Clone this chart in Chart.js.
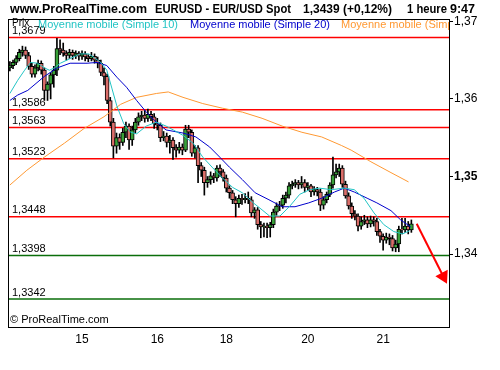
<!DOCTYPE html>
<html>
<head>
<meta charset="utf-8">
<script src="https://cdn.jsdelivr.net/npm/chart.js@4.4.1/dist/chart.umd.min.js"></script>
<style>html,body{margin:0;padding:0;background:#fff}</style>
</head>
<body>
<canvas id="chart" width="500" height="370"></canvas>
<script>
// hourly EUR/USD candles, index 0 = first hour shown
const opens = [
  1.3640,1.3643,1.3647,1.3652,1.3660,1.3663,1.3656,1.3642,1.3632,1.3640,
  1.3646,1.3637,1.3611,1.3619,1.3631,1.3637,1.3665,1.3663,1.3659,1.3656,
  1.3660,1.3656,1.3659,1.3655,1.3658,1.3654,1.3652,1.3655,1.3650,1.3646,
  1.3634,1.3629,1.3598,1.3570,1.3539,1.3550,1.3544,1.3557,1.3565,1.3547,
  1.3560,1.3570,1.3577,1.3579,1.3575,1.3580,1.3577,1.3568,1.3566,1.3550,
  1.3552,1.3544,1.3547,1.3537,1.3534,1.3538,1.3534,1.3561,1.3557,1.3530,
  1.3537,1.3514,1.3508,1.3492,1.3496,1.3501,1.3498,1.3511,1.3506,1.3498,
  1.3485,1.3479,1.3470,1.3465,1.3472,1.3470,1.3472,1.3470,1.3453,1.3457,
  1.3438,1.3435,1.3436,1.3434,1.3438,1.3454,1.3462,1.3463,1.3472,1.3476,
  1.3488,1.3490,1.3492,1.3489,1.3492,1.3486,1.3488,1.3480,1.3483,1.3480,
  1.3463,1.3470,1.3477,1.3489,1.3502,1.3506,1.3511,1.3490,1.3475,1.3462,
  1.3452,1.3449,1.3436,1.3442,1.3444,1.3439,1.3444,1.3442,1.3429,1.3423,
  1.3418,1.3422,1.3420,1.3408,1.3413,1.3432,1.3431,1.3436,1.3431
];
const highs = [
  1.3648,1.3650,1.3656,1.3664,1.3668,1.3667,1.3660,1.3646,1.3644,1.3650,
  1.3649,1.3640,1.3622,1.3634,1.3642,1.3678,1.3676,1.3672,1.3662,1.3664,
  1.3663,1.3662,1.3661,1.3662,1.3661,1.3657,1.3660,1.3658,1.3654,1.3650,
  1.3640,1.3632,1.3602,1.3575,1.3556,1.3555,1.3562,1.3570,1.3568,1.3565,
  1.3575,1.3582,1.3584,1.3585,1.3587,1.3584,1.3581,1.3575,1.3569,1.3558,
  1.3556,1.3553,1.3550,1.3541,1.3544,1.3542,1.3566,1.3566,1.3560,1.3540,
  1.3540,1.3518,1.3512,1.3500,1.3506,1.3504,1.3514,1.3515,1.3509,1.3502,
  1.3488,1.3482,1.3474,1.3476,1.3477,1.3478,1.3480,1.3474,1.3460,1.3460,
  1.3442,1.3440,1.3440,1.3441,1.3458,1.3466,1.3468,1.3476,1.3480,1.3492,
  1.3494,1.3496,1.3495,1.3500,1.3496,1.3492,1.3490,1.3487,1.3486,1.3484,
  1.3474,1.3480,1.3492,1.3525,1.3516,1.3516,1.3514,1.3494,1.3479,1.3466,
  1.3456,1.3452,1.3448,1.3450,1.3448,1.3449,1.3448,1.3446,1.3432,1.3426,
  1.3427,1.3426,1.3424,1.3418,1.3436,1.3446,1.3446,1.3442,1.3444
];
const lows = [
  1.3636,1.3639,1.3644,1.3649,1.3655,1.3652,1.3638,1.3628,1.3628,1.3636,
  1.3632,1.3598,1.3598,1.3600,1.3615,1.3630,1.3657,1.3655,1.3650,1.3652,
  1.3651,1.3652,1.3650,1.3651,1.3649,1.3648,1.3649,1.3646,1.3640,1.3630,
  1.3618,1.3594,1.3565,1.3524,1.3530,1.3535,1.3540,1.3550,1.3535,1.3540,
  1.3556,1.3566,1.3572,1.3570,1.3571,1.3572,1.3562,1.3560,1.3545,1.3546,
  1.3538,1.3530,1.3522,1.3525,1.3530,1.3528,1.3532,1.3550,1.3526,1.3524,
  1.3492,1.3500,1.3476,1.3486,1.3490,1.3492,1.3494,1.3500,1.3494,1.3480,
  1.3472,1.3465,1.3448,1.3460,1.3464,1.3466,1.3465,1.3448,1.3446,1.3432,
  1.3421,1.3422,1.3421,1.3422,1.3434,1.3450,1.3456,1.3459,1.3466,1.3472,
  1.3484,1.3486,1.3484,1.3485,1.3480,1.3482,1.3474,1.3476,1.3475,1.3456,
  1.3458,1.3466,1.3474,1.3485,1.3498,1.3500,1.3486,1.3472,1.3458,1.3446,
  1.3444,1.3430,1.3432,1.3438,1.3434,1.3435,1.3436,1.3424,1.3415,1.3405,
  1.3414,1.3412,1.3404,1.3403,1.3403,1.3426,1.3428,1.3426,1.3428
];
const closes = [
  1.3643,1.3647,1.3652,1.3660,1.3663,1.3656,1.3642,1.3632,1.3640,1.3646,
  1.3637,1.3611,1.3619,1.3631,1.3637,1.3665,1.3663,1.3659,1.3656,1.3660,
  1.3656,1.3659,1.3655,1.3658,1.3654,1.3652,1.3655,1.3650,1.3646,1.3634,
  1.3629,1.3598,1.3570,1.3539,1.3550,1.3544,1.3557,1.3565,1.3547,1.3560,
  1.3570,1.3577,1.3579,1.3575,1.3580,1.3577,1.3568,1.3566,1.3550,1.3552,
  1.3544,1.3547,1.3537,1.3534,1.3538,1.3534,1.3561,1.3557,1.3530,1.3537,
  1.3514,1.3508,1.3492,1.3496,1.3501,1.3498,1.3511,1.3506,1.3498,1.3485,
  1.3479,1.3470,1.3465,1.3472,1.3470,1.3472,1.3470,1.3453,1.3457,1.3438,
  1.3435,1.3436,1.3434,1.3438,1.3454,1.3462,1.3463,1.3472,1.3476,1.3488,
  1.3490,1.3492,1.3489,1.3492,1.3486,1.3488,1.3480,1.3483,1.3480,1.3463,
  1.3470,1.3477,1.3489,1.3502,1.3506,1.3511,1.3490,1.3475,1.3462,1.3452,
  1.3449,1.3436,1.3442,1.3444,1.3439,1.3444,1.3442,1.3429,1.3423,1.3418,
  1.3422,1.3420,1.3408,1.3413,1.3432,1.3431,1.3436,1.3431,1.3439
];

// moving averages (candle index, price)
const sma10 = [
  {x:0,y:1.3607},{x:2.5,y:1.3624},{x:4.7,y:1.3637},{x:6.6,y:1.3647},{x:8.8,y:1.3646},
  {x:11,y:1.3640},{x:12.6,y:1.3637},{x:14.2,y:1.3640},{x:16.1,y:1.3646},{x:19.2,y:1.3652},
  {x:22.4,y:1.3658},{x:25.2,y:1.3658},{x:29,y:1.3647},{x:30.9,y:1.3637},{x:32.5,y:1.3614},
  {x:34.1,y:1.3591},{x:36.3,y:1.3568},{x:38.5,y:1.3557},{x:40.4,y:1.3555},{x:43.5,y:1.3565},
  {x:46.7,y:1.3570},{x:49.8,y:1.3565},{x:52.1,y:1.3560},{x:55.2,y:1.3553},{x:58.4,y:1.3543},
  {x:61.5,y:1.3525},{x:64.7,y:1.3511},{x:67.8,y:1.3498},{x:71,y:1.3486},{x:74.1,y:1.3479},
  {x:77.3,y:1.3467},{x:80.4,y:1.3457},{x:82.8,y:1.3449},{x:86.1,y:1.3449},{x:89.3,y:1.3462},
  {x:92.4,y:1.3477},{x:95.6,y:1.3483},{x:98.7,y:1.3485},{x:102.5,y:1.3483},{x:106.6,y:1.3485},
  {x:109.8,y:1.3483},{x:112.9,y:1.3472},{x:116.1,y:1.3453},{x:119.2,y:1.3438},{x:122.4,y:1.3429},
  {x:125.2,y:1.3426},{x:127.4,y:1.3430}
];
const sma20 = [
  {x:0,y:1.3598},{x:2.5,y:1.3605},{x:5.7,y:1.3611},{x:11,y:1.3629},{x:15.1,y:1.3640},
  {x:19.2,y:1.3646},{x:24.6,y:1.3646},{x:27.8,y:1.3647},{x:30.9,y:1.3643},{x:34.1,y:1.3628},
  {x:37.2,y:1.3615},{x:40.4,y:1.3598},{x:43.5,y:1.3583},{x:46.7,y:1.3570},{x:49.8,y:1.3560},
  {x:55.2,y:1.3556},{x:59.3,y:1.3551},{x:63.7,y:1.3538},{x:66.9,y:1.3525},{x:70,y:1.3512},
  {x:74.1,y:1.3496},{x:78.2,y:1.3479},{x:82.6,y:1.3470},{x:86.8,y:1.3461},{x:90.9,y:1.3461},
  {x:95.3,y:1.3466},{x:99.4,y:1.3472},{x:103.5,y:1.3480},{x:106.6,y:1.3485},{x:109.8,y:1.3480},
  {x:113.9,y:1.3472},{x:117,y:1.3466},{x:121.5,y:1.3456},{x:124.6,y:1.3444},{x:127.8,y:1.3435}
];
const sma100 = [
  {x:0,y:1.3489},{x:5.4,y:1.3508},{x:11,y:1.3525},{x:17.4,y:1.3543},{x:23.7,y:1.3562},
  {x:30,y:1.3577},{x:35.3,y:1.3593},{x:40.4,y:1.3602},{x:46.7,y:1.3607},{x:50.5,y:1.3609},
  {x:55.2,y:1.3602},{x:61.5,y:1.3594},{x:67.8,y:1.3588},{x:74.1,y:1.3583},{x:80.4,y:1.3575},
  {x:86.8,y:1.3565},{x:93.1,y:1.3557},{x:99.4,y:1.3551},{x:105.7,y:1.3540},{x:108.8,y:1.3534},
  {x:115.1,y:1.3519},{x:121.5,y:1.3505},{x:127.1,y:1.3493}
];

const levels = [1.3679, 1.3586, 1.3563, 1.3523, 1.3448, 1.3398, 1.3342];
const levelColors = ["#ff0000","#ff0000","#ff0000","#ff0000","#ff0000","#0a6e0a","#0a6e0a"];
const arrow = [{x:129.7,y:1.3439},{x:138.2,y:1.3371}];

const dayTicks = [23, 47, 69, 95, 119];
const dayLabels = ["15", "16", "18", "20", "21"];
const priceTicks = [1.34, 1.35, 1.36, 1.37];

const FONT = "'Liberation Sans', Arial, sans-serif";
const fmt = v => v.toFixed(4).replace(".", ",");

const candleBodies = opens.map((o, i) => ({x: i, y: [o, closes[i]]}));
const candleWicks = lows.map((l, i) => ({x: i, y: [l, highs[i]]}));
const bodyColors = opens.map((o, i) => closes[i] >= o ? "#38a038" : "#dc6e6a");

const levelSets = levels.map((v, i) => ({
  type: "line",
  data: [{x: -5, y: v}, {x: 150, y: v}],
  borderColor: levelColors[i],
  borderWidth: 1.5,
  pointRadius: 0
}));

const decor = {
  id: "decor",
  beforeDatasetsDraw(chart) {
    const {ctx, chartArea: a, scales: {y}} = chart;
    ctx.save();
    ctx.fillStyle = "#000";
    ctx.font = "11px " + FONT;
    ctx.textBaseline = "bottom";
    levels.forEach(v => ctx.fillText(fmt(v), a.left + 4, y.getPixelForValue(v) - 1));
    ctx.textBaseline = "middle";
    ctx.font = "10px " + FONT;
    ctx.fillText("Prix", a.left + 4, 23);
    ctx.font = "11px " + FONT;
    ctx.fillText("\u00a9 ProRealTime.com", a.left + 2, a.bottom - 7);
    ctx.restore();
  },
  afterDraw(chart) {
    const {ctx, chartArea: a} = chart;
    ctx.save();
    // header, each part squeezed to its width in the original
    ctx.fillStyle = "#000";
    ctx.font = "bold 12.5px " + FONT;
    ctx.textBaseline = "middle";
    ctx.fillText("www.ProRealTime.com", 10, 10, 137);
    ctx.fillText("EURUSD - EUR/USD Spot", 155, 10, 136);
    ctx.fillText("1,3439 (+0,12%)", 303, 10, 89);
    ctx.fillText("1 heure", 407, 10, 40);
    ctx.fillText("9:47", 450, 10, 27);
    // legend, clipped at the plot edge
    ctx.beginPath();
    ctx.rect(a.left, a.top, a.right - a.left, a.bottom - a.top);
    ctx.clip();
    ctx.font = "11px " + FONT;
    ctx.fillStyle = "#22c4c4";
    ctx.fillText("Moyenne mobile (Simple 10)", 38, 25);
    ctx.fillStyle = "#0000cc";
    ctx.fillText("Moyenne mobile (Simple 20)", 190, 25);
    ctx.fillStyle = "#ff9933";
    ctx.fillText("Moyenne mobile (Simple 100)", 341, 25);
    ctx.restore();
    ctx.save();
    ctx.strokeStyle = "#000";
    ctx.lineWidth = 1;
    ctx.strokeRect(a.left + 0.5, a.top + 0.5, a.right - a.left, a.bottom - a.top);
    ctx.restore();
  }
};

new Chart(document.getElementById("chart"), {
  type: "line",
  data: {
    datasets: [
      {
        data: arrow,
        borderColor: "#ff0000",
        borderWidth: 2,
        pointRadius: [0, 6],
        pointStyle: "triangle",
        rotation: 153,
        pointBackgroundColor: "#ff0000",
        pointBorderColor: "#ff0000",
        clip: false
      },
      {data: sma10, borderColor: "#22c4c4", borderWidth: 1, pointRadius: 0},
      {data: sma20, borderColor: "#0000cc", borderWidth: 1, pointRadius: 0},
      {data: sma100, borderColor: "#ff9933", borderWidth: 1, pointRadius: 0},
      {
        type: "bar",
        data: candleBodies,
        backgroundColor: bodyColors,
        borderColor: "#000",
        borderWidth: 1,
        borderSkipped: false,
        barThickness: 4,
        grouped: false
      },
      {
        type: "bar",
        data: candleWicks,
        backgroundColor: "#000",
        borderWidth: 0,
        barThickness: 1,
        grouped: false
      },
      ...levelSets
    ]
  },
  options: {
    responsive: false,
    animation: false,
    events: [],
    layout: {padding: {top: 19, left: 3, right: 0, bottom: 0}},
    elements: {line: {tension: 0, fill: false}},
    plugins: {legend: {display: false}, tooltip: {enabled: false}},
    scales: {
      x: {
        type: "linear",
        min: -0.6,
        max: 140,
        offset: false,
        grid: {display: false, drawTicks: false, tickLength: 0},
        border: {color: "#000"},
        afterBuildTicks: s => { s.ticks = dayTicks.map(v => ({value: v})); },
        afterFit: s => { s.height = 43; },
        ticks: {
          autoSkip: false,
          maxRotation: 0,
          padding: 5,
          color: "#000",
          font: {family: FONT, size: 12},
          callback: (v, i) => dayLabels[i]
        }
      },
      y: {
        position: "right",
        min: 1.3306,
        max: 1.3703,
        grid: {drawOnChartArea: false, color: "#000", tickLength: 4},
        border: {color: "#000"},
        afterBuildTicks: s => { s.ticks = priceTicks.map(v => ({value: v})); },
        afterFit: s => { s.width = 51; },
        ticks: {
          padding: 1,
          color: "#000",
          font: c => c.tick && c.tick.value === 1.35
            ? {family: FONT, size: 12, weight: "bold"}
            : {family: FONT, size: 12},
          callback: v => v.toFixed(2).replace(".", ",")
        }
      }
    }
  },
  plugins: [decor]
});
</script>
</body>
</html>
